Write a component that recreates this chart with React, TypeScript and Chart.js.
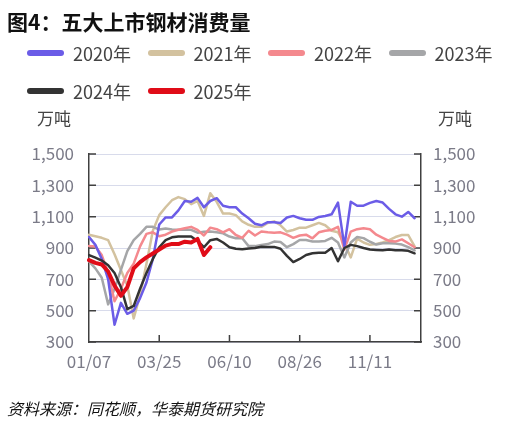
import React, { useEffect, useRef } from "react";
import { Chart, registerables } from "chart.js";

Chart.register(...registerables);

const FONT = "'Noto Sans CJK SC', 'Noto Sans', sans-serif";

const weeks = [
  "01/07", "01/14", "01/21", "01/28", "02/04", "02/11", "02/18", "02/25", "03/04", "03/11",
  "03/18", "03/25", "04/01", "04/08", "04/15", "04/22", "04/29", "05/06", "05/13", "05/20",
  "05/27", "06/03", "06/10", "06/17", "06/24", "07/01", "07/08", "07/15", "07/22", "07/29",
  "08/05", "08/12", "08/19", "08/26", "09/02", "09/09", "09/16", "09/23", "09/30", "10/07",
  "10/14", "10/21", "10/28", "11/04", "11/11", "11/18", "11/25", "12/02", "12/09", "12/16",
  "12/23", "12/30", "01/06",
];
const labelEvery = 11;

const yearNames = ["2020年", "2021年", "2022年", "2023年", "2024年", "2025年"];
const yearColors = ["#6b5ce7", "#d3c29f", "#f4898e", "#a5a6a8", "#333333", "#e00c18"];
const yearWidths = [2.5, 2.5, 2.5, 2.5, 2.5, 4];
const yearOrder = [2, 5, 3, 4, 1, 0];

const v2020 = [970, 920, 830, 700, 410, 550, 480, 500, 580, 680, 830, 1050, 1095, 1095, 1140, 1200, 1195, 1220, 1160, 1200, 1218, 1170, 1160, 1160, 1120, 1090, 1055, 1045, 1065, 1065, 1060, 1095, 1105, 1090, 1080, 1080, 1098, 1104, 1115, 1190, 910, 1195, 1170, 1170, 1188, 1200, 1190, 1150, 1115, 1100, 1130, 1090];
const v2021 = [985, 975, 965, 950, 860, 760, 660, 450, 600, 800, 1010, 1110, 1160, 1205, 1225, 1212, 1180, 1200, 1105, 1250, 1195, 1120, 1120, 1110, 1070, 1048, 1035, 1035, 1060, 1070, 1045, 1005, 1015, 1030, 1030, 1045, 1060, 1045, 1010, 1000, 930, 840, 960, 935, 920, 925, 935, 950, 970, 983, 983, 910];
const v2022 = [913, 909, 855, 740, 560, 640, 740, 800, 910, 990, 1000, 975, 985, 1005, 1016, 1026, 1035, 1016, 980, 1030, 1020, 1000, 1020, 983, 965, 1010, 980, 1005, 1000, 998, 1000, 985, 965, 980, 985, 962, 1000, 1010, 1015, 1035, 890, 1005, 1020, 1026, 1020, 985, 965, 945, 941, 955, 930, 905];
const v2023 = [815, 770, 710, 540, 640, 760, 880, 950, 990, 1035, 1035, 1018, 1025, 1018, 1016, 1016, 1016, 998, 1003, 1005, 1000, 994, 973, 962, 962, 912, 912, 920, 925, 941, 938, 905, 925, 951, 951, 942, 941, 945, 965, 935, 840, 935, 970, 963, 940, 922, 930, 930, 928, 922, 905, 885];
const v2024 = [855, 838, 820, 790, 740, 650, 510, 530, 640, 740, 830, 905, 950, 968, 973, 973, 973, 945, 905, 950, 958, 935, 905, 895, 892, 897, 900, 908, 906, 907, 895, 850, 810, 830, 855, 866, 870, 870, 900, 815, 900, 920, 912, 900, 890, 888, 886, 890, 886, 885, 882, 866];
const v2025 = [823, 805, 795, 750, 660, 595, 650, 770, 810, 840, 865, 890, 915, 926, 925, 940, 935, 958, 855, 905];

const yearValues = [v2020, v2021, v2022, v2023, v2024, v2025];

const yMin = 300;
const yMax = 1500;
const yStep = 200;

const axisColor = "#404040";
const tickTextColor = "#7b7b88";
const gridColor = "#d8dbeb";

const innerTicks = {
  id: "innerTicks",
  beforeDatasetsDraw(chart: any) {
    const { ctx, chartArea, scales } = chart;
    ctx.save();
    ctx.strokeStyle = axisColor;
    ctx.lineWidth = 1.5;
    ctx.beginPath();
    scales.x.ticks.forEach((_t: any, i: number) => {
      if (i === 0 || i % labelEvery !== 0) return;
      const px = scales.x.getPixelForTick(i);
      ctx.moveTo(px, chartArea.bottom);
      ctx.lineTo(px, chartArea.bottom - 7);
    });
    scales.y.ticks.forEach((t: any) => {
      const py = scales.y.getPixelForValue(t.value);
      ctx.moveTo(chartArea.left, py);
      ctx.lineTo(chartArea.left + 7, py);
      ctx.moveTo(chartArea.right, py);
      ctx.lineTo(chartArea.right - 7, py);
    });
    ctx.stroke();
    ctx.restore();
  },
};

const fmt = (v: any) => Number(v).toLocaleString("en-US");

export default function App() {
  const ref = useRef<HTMLCanvasElement>(null);

  useEffect(() => {
    if (!ref.current) return;
    const tickFont = { family: FONT, size: 17 };
    const chart = new Chart(ref.current, {
      type: "line",
      data: {
        labels: weeks,
        datasets: yearNames.map((name, i) => ({
          label: name,
          data: yearValues[i],
          borderColor: yearColors[i],
          backgroundColor: yearColors[i],
          borderWidth: yearWidths[i],
          pointRadius: 0,
          tension: 0,
          fill: false,
          order: yearOrder[i],
          borderJoinStyle: "round" as const,
          borderCapStyle: "round" as const,
        })),
      },
      options: {
        responsive: false,
        animation: false,
        layout: { padding: { top: 154, left: 0, right: 0, bottom: 0 } },
        plugins: {
          legend: { display: false },
          title: { display: false },
          tooltip: { enabled: false },
        },
        scales: {
          x: {
            type: "category",
            offset: false,
            grid: { display: false, drawTicks: false },
            border: { display: true, color: axisColor, width: 1.5 },
            ticks: {
              autoSkip: false,
              maxRotation: 0,
              minRotation: 0,
              padding: 9,
              color: tickTextColor,
              font: tickFont,
              callback: (_v: any, idx: number) => (idx % labelEvery === 0 ? weeks[idx] : ""),
            },
            afterFit: (s: any) => {
              s.height = 84;
            },
          },
          y: {
            position: "left",
            min: yMin,
            max: yMax,
            grid: { color: gridColor, lineWidth: 1, drawTicks: false },
            border: { display: true, color: axisColor, width: 1.5 },
            ticks: {
              stepSize: yStep,
              padding: 15,
              color: tickTextColor,
              font: tickFont,
              callback: fmt,
            },
            afterFit: (s: any) => {
              s.width = 89;
            },
          },
          y2: {
            position: "right",
            min: yMin,
            max: yMax,
            grid: { drawOnChartArea: false, drawTicks: false },
            border: { display: true, color: axisColor, width: 1.5 },
            ticks: {
              stepSize: yStep,
              padding: 12,
              color: tickTextColor,
              font: tickFont,
              callback: fmt,
            },
            afterFit: (s: any) => {
              s.width = 98;
            },
          },
        },
      },
      plugins: [innerTicks],
    } as any);
    return () => chart.destroy();
  }, []);

  return (
    <div
      style={{
        position: "absolute",
        left: 0,
        top: 0,
        width: 519,
        height: 426,
        background: "#ffffff",
        fontFamily: FONT,
        overflow: "hidden",
      }}
    >
      <canvas
        ref={ref}
        width={519}
        height={426}
        style={{ position: "absolute", left: 0, top: 0, width: 519, height: 426 }}
      />
      <div
        style={{
          position: "absolute",
          left: 7,
          top: 10,
          fontSize: 21,
          lineHeight: "22px",
          fontWeight: 700,
          color: "#111111",
          whiteSpace: "nowrap",
        }}
      >
        图4：五大上市钢材消费量
      </div>
      <div
        style={{
          position: "absolute",
          left: 27,
          top: 34,
          width: 484,
          display: "flex",
          flexWrap: "wrap",
        }}
      >
        {yearNames.map((name, i) => (
          <div
            key={name}
            style={{
              width: 120.5,
              height: 37.7,
              display: "flex",
              alignItems: "center",
            }}
          >
            <span
              style={{
                display: "inline-block",
                width: 37,
                height: 6,
                borderRadius: 3,
                background: yearColors[i],
                marginRight: 9,
              }}
            />
            <span style={{ fontSize: 18, lineHeight: "18px", color: "#444444", whiteSpace: "nowrap" }}>
              {name}
            </span>
          </div>
        ))}
      </div>
      <div
        style={{
          position: "absolute",
          left: 37,
          top: 109,
          fontSize: 17,
          lineHeight: "18px",
          color: "#444444",
        }}
      >
        万吨
      </div>
      <div
        style={{
          position: "absolute",
          left: 438,
          top: 109,
          fontSize: 17,
          lineHeight: "18px",
          color: "#444444",
        }}
      >
        万吨
      </div>
      <div
        style={{
          position: "absolute",
          left: 7,
          top: 399,
          fontSize: 16,
          lineHeight: "18px",
          fontStyle: "italic",
          color: "#111111",
          whiteSpace: "nowrap",
        }}
      >
        资料来源：同花顺，华泰期货研究院
      </div>
    </div>
  );
}
